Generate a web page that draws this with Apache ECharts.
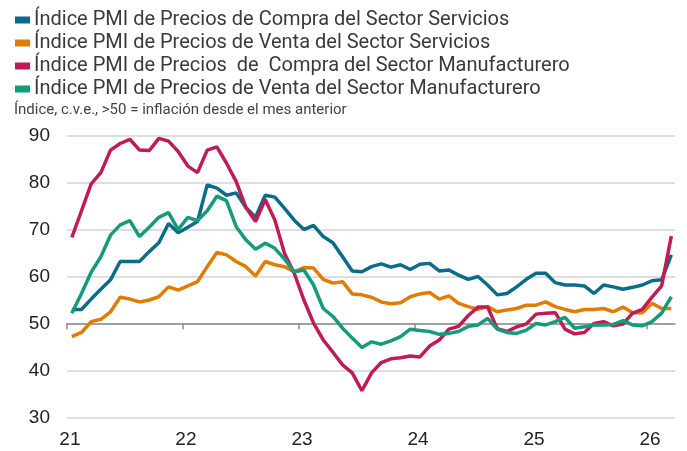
<!DOCTYPE html>
<html>
<head>
<meta charset="utf-8">
<script src="https://cdn.jsdelivr.net/npm/echarts@6/dist/echarts.min.js"></script>
<style>
  html, body { margin: 0; padding: 0; background: #fff; }
  #chart { width: 687px; height: 451px; }
</style>
</head>
<body>
<div id="chart"></div>
<script>
// Series names (legend)
var seriesNames = [
    'Índice PMI de Precios de Compra del Sector Servicios',
    'Índice PMI de Precios de Venta del Sector Servicios',
    'Índice PMI de Precios  de  Compra del Sector Manufacturero',
    'Índice PMI de Precios de Venta del Sector Manufacturero'
];

// Monthly values, Jan 2021 .. Mar 2026
var servInput = [53.1, 53.1, 55.3, 57.4, 59.4, 63.3, 63.3, 63.3, 65.4, 67.3, 71.4, 69.4,
                 70.6, 71.8, 79.6, 78.9, 77.4, 77.9, 74.8, 72.7, 77.4, 77.0, 74.6, 72.1,
                 70.1, 71.0, 68.6, 67.3, 64.3, 61.3, 61.1, 62.2, 62.8, 62.1, 62.6, 61.6,
                 62.7, 62.9, 61.3, 61.5, 60.4, 59.5, 60.1, 58.3, 56.2, 56.5, 57.9, 59.5,
                 60.8, 60.8, 58.8, 58.3, 58.3, 58.1, 56.5, 58.3, 57.9, 57.4, 57.8, 58.3,
                 59.2, 59.4, 64.7];
var servOutput = [47.3, 48.2, 50.5, 51.0, 52.6, 55.7, 55.3, 54.7, 55.1, 55.8, 57.9, 57.2,
                  58.1, 59.0, 62.2, 65.2, 64.7, 63.3, 62.2, 60.2, 63.3, 62.6, 62.2, 61.1,
                  62.0, 61.9, 59.5, 58.7, 59.0, 56.4, 56.2, 55.7, 54.7, 54.3, 54.5, 55.8,
                  56.4, 56.7, 55.3, 56.0, 54.4, 53.7, 53.1, 53.7, 52.6, 53.0, 53.3, 54.0,
                  54.0, 54.7, 53.7, 53.1, 52.6, 53.1, 53.1, 53.3, 52.6, 53.6, 52.4, 52.4,
                  54.4, 53.3, 53.3];
var mfgInput = [68.4, 74.1, 79.8, 82.2, 87.0, 88.4, 89.3, 87.0, 86.9, 89.5, 88.9, 86.7,
                83.6, 82.2, 87.0, 87.7, 84.2, 80.3, 74.8, 71.8, 76.5, 72.1, 65.0, 60.8,
                55.1, 50.2, 46.6, 44.0, 41.3, 39.6, 35.8, 39.6, 41.8, 42.6, 42.8, 43.2,
                43.0, 45.3, 46.6, 48.9, 49.5, 51.8, 53.6, 53.6, 49.0, 48.4, 49.4, 50.0,
                52.1, 52.3, 52.4, 48.9, 47.9, 48.2, 50.1, 50.5, 49.6, 50.0, 52.3, 53.1,
                55.7, 58.1, 68.7];
var mfgOutput = [52.3, 56.5, 61.0, 64.3, 68.9, 71.1, 72.0, 68.6, 70.6, 72.7, 73.7, 70.1,
                 72.7, 72.0, 74.1, 77.2, 76.2, 70.7, 67.9, 65.9, 67.2, 66.1, 63.8, 61.1,
                 61.5, 58.3, 53.3, 51.6, 49.1, 47.0, 45.0, 46.2, 45.7, 46.4, 47.3, 48.9,
                 48.6, 48.4, 47.8, 48.0, 48.4, 49.5, 49.8, 51.2, 48.9, 48.2, 48.0, 48.7,
                 50.1, 49.8, 50.5, 51.4, 49.1, 49.4, 49.8, 49.8, 49.9, 50.7, 49.8, 49.6,
                 50.5, 52.3, 55.8];

// Year tick labels
var yearTicks = [21, 22, 23, 24, 25, 26];
var yearLabels = ['21', '22', '23', '24', '25', '26'];

var colors = ['#0b6b88', '#e07c00', '#c01b55', '#159b7b'];

// month i (from Jan 2021) -> decimal year, mid-month
function monthPos(i) {
    return 21 + (i + 0.5) / 12;
}
function toPairs(arr) {
    return arr.map(function (v, i) { return [monthPos(i), v]; });
}

var labelPos = yearTicks.map(function (y) { return y + 0.3 / 12; });

var myChart = echarts.init(document.getElementById('chart'));

var allData = [servInput, servOutput, mfgInput, mfgOutput];

myChart.setOption({
    animation: false,
    color: colors,
    title: {
        text: 'Índice, c.v.e., >50 = inflación desde el mes anterior',
        left: 9,
        top: 98,
        textStyle: {
            fontFamily: 'Roboto',
            fontSize: 15,
            fontWeight: 'normal',
            color: '#444'
        }
    },
    legend: {
        orient: 'vertical',
        left: 10,
        top: 5,
        icon: 'rect',
        itemWidth: 15,
        itemHeight: 7,
        itemGap: 3,
        textStyle: {
            fontFamily: 'Roboto',
            fontSize: 20,
            color: '#3a3a3a',
            padding: [0, 0, 0, -1]
        },
        data: seriesNames
    },
    grid: {
        left: 67,
        right: 12,
        top: 136,
        bottom: 33
    },
    xAxis: [
        {
            type: 'value',
            min: 21,
            max: 26.24,
            axisLine: {show: false},
            axisTick: {show: false},
            splitLine: {show: false},
            axisLabel: {
                customValues: labelPos,
                margin: 12,
                fontFamily: 'Liberation Sans',
                fontSize: 19,
                color: '#222',
                formatter: function (v) {
                    return yearLabels[Math.round(v - 21)] || '';
                }
            }
        },
        {
            type: 'value',
            min: 21,
            max: 26.24,
            position: 'bottom',
            offset: -94.7,
            axisLine: {lineStyle: {color: '#8c8c8c', width: 1.5}},
            axisTick: {
                customValues: yearTicks,
                length: 6,
                lineStyle: {color: '#8c8c8c', width: 1.5}
            },
            axisLabel: {show: false},
            splitLine: {show: false}
        }
    ],
    yAxis: {
        type: 'value',
        min: 30,
        max: 90,
        interval: 10,
        axisLine: {show: false},
        axisTick: {show: false},
        axisLabel: {
            margin: 17,
            fontFamily: 'Liberation Sans',
            fontSize: 19,
            color: '#222'
        },
        splitLine: {
            lineStyle: {color: '#d3d3d3', width: 1.5}
        }
    },
    series: seriesNames.map(function (name, k) {
        return {
            name: name,
            type: 'line',
            xAxisIndex: 0,
            data: toPairs(allData[k]),
            symbol: 'none',
            lineStyle: {width: 3.5, color: colors[k]},
            itemStyle: {color: colors[k]}
        };
    })
});
</script>
</body>
</html>
